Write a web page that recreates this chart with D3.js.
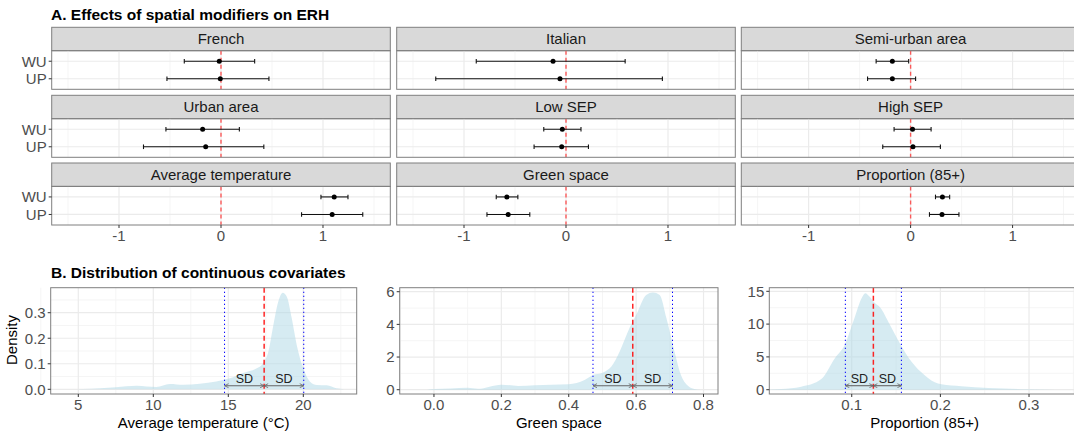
<!DOCTYPE html>
<html>
<head>
<meta charset="utf-8">
<script src="https://cdn.jsdelivr.net/npm/d3@7"></script>
<style>
  body { margin: 0; background: #fff; }
  text { font-family: "Liberation Sans", Arial, sans-serif; }
</style>
</head>
<body>
<svg id="chart" width="1074" height="435"></svg>
<script>
// ---- Part A data: effect estimates with 95% intervals ----
var facets = ["French", "Italian", "Semi-urban area",
              "Urban area", "Low SEP", "High SEP",
              "Average temperature", "Green space", "Proportion (85+)"];
var groups = ["WU", "UP"];
var estWU  = [-0.017, -0.127, -0.179, -0.18, -0.036, 0.019, 1.11, -0.58, 0.312];
var lowWU  = [-0.36, -0.88, -0.338, -0.54, -0.218, -0.162, 0.98, -0.684, 0.244];
var highWU = [0.33, 0.58, -0.019, 0.18, 0.147, 0.201, 1.245, -0.472, 0.383];
var estUP  = [-0.007, -0.059, -0.179, -0.15, -0.042, 0.023, 1.09, -0.567, 0.308];
var lowUP  = [-0.53, -1.277, -0.422, -0.76, -0.313, -0.273, 0.79, -0.775, 0.185];
var highUP = [0.47, 0.945, 0.049, 0.42, 0.22, 0.292, 1.39, -0.355, 0.474];
var effectTicks = [-1, 0, 1];

// ---- Part B data: density curves of the continuous covariates ----
var tempX = [4.5, 5.3, 6.5, 7.5, 8.9, 10.2, 11.1, 12.0, 13.1, 14.2, 15.1, 16.0, 16.9, 17.3, 17.67, 18.0, 18.33, 18.63, 18.9, 19.23, 19.56, 20.0, 20.45, 20.9, 21.56, 22.2, 22.7];
var tempY = [0, 0.001, 0.004, 0.008, 0.014, 0.009, 0.021, 0.018, 0.022, 0.031, 0.043, 0.064, 0.082, 0.10, 0.147, 0.25, 0.343, 0.378, 0.363, 0.278, 0.174, 0.082, 0.030, 0.017, 0.016, 0.004, 0];
var greenX = [-0.02, 0.0, 0.05, 0.1, 0.13, 0.2, 0.25, 0.3, 0.4, 0.447, 0.472, 0.502, 0.526, 0.551, 0.58, 0.6, 0.63, 0.65, 0.67, 0.69, 0.714, 0.733, 0.753, 0.773, 0.79];
var greenY = [0, 0.04, 0.07, 0.12, 0.06, 0.31, 0.23, 0.27, 0.33, 0.59, 0.90, 1.06, 1.41, 2.33, 3.76, 4.57, 5.8, 5.95, 5.8, 4.37, 2.33, 0.9, 0.25, 0.04, 0];
var propX = [0.008, 0.0206, 0.043, 0.0657, 0.081, 0.092, 0.103, 0.111, 0.1153, 0.12, 0.126, 0.1316, 0.143, 0.152, 0.1635, 0.1785, 0.1936, 0.201, 0.2236, 0.254, 0.3, 0.33];
var propY = [0.02, 0.1, 0.46, 1.63, 4.8, 6.8, 10.9, 13.9, 14.7, 14.2, 13.2, 12.6, 9.9, 7.6, 5.0, 2.65, 1.13, 0.82, 0.52, 0.26, 0.08, 0];
var covNames = ["Average temperature (\u00b0C)", "Green space", "Proportion (85+)"];
var covMean = [17.39, 0.59, 0.1244];
var covSD = [2.64, 0.118, 0.0316];
var xTicksB = [[5, 10, 15, 20], [0, 0.2, 0.4, 0.6, 0.8], [0.1, 0.2, 0.3]];
var yTicksB = [[0, 0.1, 0.2, 0.3], [0, 2, 4, 6], [0, 5, 10, 15]];

var svg = d3.select("#chart");
var borderCol = "#7f7f7f";
var gridMajor = "#ebebeb", gridMinor = "#f5f5f5";
var tickCol = "#4d4d4d";

svg.append("text").attr("x", 51).attr("y", 20)
  .attr("font-size", 15.5).attr("font-weight", "bold").attr("fill", "#000")
  .text("A. Effects of spatial modifiers on ERH");

// ---- Part A: faceted forest plot ----
var colLeft = [51.7, 396.7, 741.3];
var panelW = 338.6;
var rowTop = [27.3, 95.3, 163];
var stripH = 23.4, panelH = 38.6;

var xA = d3.scaleLinear().domain([-1.66, 1.66]).range([0, panelW]);
var yA = d3.scalePoint().domain(groups).range([0, panelH]).padding(0.6);

facets.forEach(function(name, i) {
    var col = i % 3, row = Math.floor(i / 3);
    var g = svg.append("g").attr("transform", "translate(" + colLeft[col] + "," + rowTop[row] + ")");

    // strip
    g.append("rect").attr("width", panelW).attr("height", stripH)
      .attr("fill", "#d9d9d9").attr("stroke", borderCol).attr("stroke-width", 1);
    g.append("text").attr("x", panelW / 2).attr("y", stripH / 2 + 5.3)
      .attr("text-anchor", "middle").attr("font-size", 15).attr("fill", "#1a1a1a").text(name);

    var p = g.append("g").attr("transform", "translate(0," + stripH + ")");
    [-1.5, -0.5, 0.5, 1.5].forEach(function(v) {
        p.append("line").attr("x1", xA(v)).attr("x2", xA(v)).attr("y1", 0).attr("y2", panelH)
          .attr("stroke", gridMinor).attr("stroke-width", 1);
    });
    effectTicks.forEach(function(v) {
        p.append("line").attr("x1", xA(v)).attr("x2", xA(v)).attr("y1", 0).attr("y2", panelH)
          .attr("stroke", gridMajor).attr("stroke-width", 1.2);
    });
    groups.forEach(function(gr) {
        p.append("line").attr("x1", 0).attr("x2", panelW).attr("y1", yA(gr)).attr("y2", yA(gr))
          .attr("stroke", gridMajor).attr("stroke-width", 1.2);
    });
    p.append("line").attr("x1", xA(0)).attr("x2", xA(0)).attr("y1", 0).attr("y2", panelH)
      .attr("stroke", "#ff2a2a").attr("stroke-opacity", 0.75).attr("stroke-width", 1.4)
      .attr("stroke-dasharray", "4,3");

    var rows = [
        {gr: "WU", est: estWU[i], lo: lowWU[i], hi: highWU[i]},
        {gr: "UP", est: estUP[i], lo: lowUP[i], hi: highUP[i]}
    ];
    rows.forEach(function(d) {
        var y = yA(d.gr);
        p.append("line").attr("x1", xA(d.lo)).attr("x2", xA(d.hi)).attr("y1", y).attr("y2", y)
          .attr("stroke", "#111").attr("stroke-width", 1.1);
        [d.lo, d.hi].forEach(function(v) {
            p.append("line").attr("x1", xA(v)).attr("x2", xA(v)).attr("y1", y - 2.3).attr("y2", y + 2.3)
              .attr("stroke", "#111").attr("stroke-width", 1.1);
        });
        p.append("circle").attr("cx", xA(d.est)).attr("cy", y).attr("r", 2.5).attr("fill", "#000");
    });
    p.append("rect").attr("width", panelW).attr("height", panelH)
      .attr("fill", "none").attr("stroke", borderCol).attr("stroke-width", 1);

    if (col === 0) {
        groups.forEach(function(gr) {
            p.append("line").attr("x1", -3).attr("x2", 0).attr("y1", yA(gr)).attr("y2", yA(gr))
              .attr("stroke", "#333");
            p.append("text").attr("x", -5).attr("y", yA(gr) + 5.3).attr("text-anchor", "end")
              .attr("font-size", 15).attr("fill", tickCol).text(gr);
        });
    }
    if (row === 2) {
        effectTicks.forEach(function(v) {
            p.append("line").attr("x1", xA(v)).attr("x2", xA(v)).attr("y1", panelH).attr("y2", panelH + 3)
              .attr("stroke", "#333");
            p.append("text").attr("x", xA(v)).attr("y", panelH + 16.5).attr("text-anchor", "middle")
              .attr("font-size", 15).attr("fill", tickCol).text(v === -1 ? "-1" : v);
        });
    }
});

// ---- Part B: density panels ----
svg.append("text").attr("x", 51).attr("y", 278)
  .attr("font-size", 15.5).attr("font-weight", "bold").attr("fill", "#000")
  .text("B. Distribution of continuous covariates");

var defs = svg.append("defs");
defs.append("marker").attr("id", "arr").attr("viewBox", "0 0 10 10")
  .attr("refX", 9).attr("refY", 5).attr("markerWidth", 5).attr("markerHeight", 5)
  .attr("orient", "auto-start-reverse").attr("markerUnits", "userSpaceOnUse")
  .append("path").attr("d", "M1,1 L9,5 L1,9").attr("fill", "none")
  .attr("stroke", "#666").attr("stroke-width", 1.6);

var bPanels = [
    {left: 50.7, right: 356.7, xd: [3.16, 23.56], yd: [-0.0184, 0.398], xs: tempX, ys: tempY,
     xMinor: [2.5, 7.5, 12.5, 17.5, 22.5], yMinor: [0.05, 0.15, 0.25, 0.35], fmtX: d3.format("d"), fmtY: d3.format(".1f")},
    {left: 399.7, right: 718, xd: [-0.1017, 0.843], yd: [-0.263, 6.246], xs: greenX, ys: greenY,
     xMinor: [-0.1, 0.1, 0.3, 0.5, 0.7], yMinor: [1, 3, 5], fmtX: d3.format(".1f"), fmtY: d3.format("d")},
    {left: 769.3, right: 1080, xd: [0.007, 0.3575], yd: [-0.655, 15.55], xs: propX, ys: propY,
     xMinor: [0.05, 0.15, 0.25, 0.35], yMinor: [2.5, 7.5, 12.5], fmtX: d3.format(".1f"), fmtY: d3.format("d")}
];
var bTop = 287.7, bBottom = 394;

bPanels.forEach(function(b, k) {
    var w = b.right - b.left, h = bBottom - bTop;
    var x = d3.scaleLinear().domain(b.xd).range([0, w]);
    var y = d3.scaleLinear().domain(b.yd).range([h, 0]);
    var g = svg.append("g").attr("transform", "translate(" + b.left + "," + bTop + ")");

    b.xMinor.forEach(function(v) {
        g.append("line").attr("x1", x(v)).attr("x2", x(v)).attr("y1", 0).attr("y2", h)
          .attr("stroke", gridMinor);
    });
    b.yMinor.forEach(function(v) {
        g.append("line").attr("x1", 0).attr("x2", w).attr("y1", y(v)).attr("y2", y(v))
          .attr("stroke", gridMinor);
    });
    xTicksB[k].forEach(function(v) {
        g.append("line").attr("x1", x(v)).attr("x2", x(v)).attr("y1", 0).attr("y2", h)
          .attr("stroke", gridMajor).attr("stroke-width", 1.2);
    });
    yTicksB[k].forEach(function(v) {
        g.append("line").attr("x1", 0).attr("x2", w).attr("y1", y(v)).attr("y2", y(v))
          .attr("stroke", gridMajor).attr("stroke-width", 1.2);
    });

    var pts = b.xs.map(function(v, j) { return [v, b.ys[j]]; });
    var area = d3.area().x(function(d) { return x(d[0]); }).y0(y(0)).y1(function(d) { return y(d[1]); })
      .curve(d3.curveMonotoneX);
    g.append("path").datum(pts).attr("d", area).attr("fill", "#add8e6").attr("fill-opacity", 0.5);

    var m = covMean[k], s = covSD[k];
    [m - s, m + s].forEach(function(v) {
        g.append("line").attr("x1", x(v)).attr("x2", x(v)).attr("y1", 0).attr("y2", h)
          .attr("stroke", "#0000ff").attr("stroke-width", 1).attr("stroke-dasharray", "1.3,2.7");
    });
    g.append("line").attr("x1", x(m)).attr("x2", x(m)).attr("y1", 0).attr("y2", h)
      .attr("stroke", "#ff0000").attr("stroke-opacity", 0.85).attr("stroke-width", 1.5)
      .attr("stroke-dasharray", "5,3");

    var ay = h - 8.3;
    [[m - s, m], [m, m + s]].forEach(function(seg) {
        g.append("line").attr("x1", x(seg[0])).attr("x2", x(seg[1])).attr("y1", ay).attr("y2", ay)
          .attr("stroke", "#666").attr("stroke-width", 1.1)
          .attr("marker-start", "url(#arr)").attr("marker-end", "url(#arr)");
        g.append("text").attr("x", x((seg[0] + seg[1]) / 2)).attr("y", ay - 3)
          .attr("text-anchor", "middle").attr("font-size", 12.5).attr("fill", "#222").text("SD");
    });

    g.append("rect").attr("width", w).attr("height", h).attr("fill", "none")
      .attr("stroke", borderCol).attr("stroke-width", 1);

    xTicksB[k].forEach(function(v) {
        g.append("line").attr("x1", x(v)).attr("x2", x(v)).attr("y1", h).attr("y2", h + 3).attr("stroke", "#333");
        g.append("text").attr("x", x(v)).attr("y", h + 16.5).attr("text-anchor", "middle")
          .attr("font-size", 15).attr("fill", tickCol).text(b.fmtX(v));
    });
    yTicksB[k].forEach(function(v) {
        g.append("line").attr("x1", -3).attr("x2", 0).attr("y1", y(v)).attr("y2", y(v)).attr("stroke", "#333");
        g.append("text").attr("x", -5).attr("y", y(v) + 5.3).attr("text-anchor", "end")
          .attr("font-size", 15).attr("fill", tickCol).text(b.fmtY(v));
    });
    g.append("text").attr("x", w / 2).attr("y", h + 34).attr("text-anchor", "middle")
      .attr("font-size", 15).attr("fill", "#000").text(covNames[k]);
});

svg.append("text").attr("transform", "translate(17,340) rotate(-90)")
  .attr("text-anchor", "middle").attr("font-size", 15).attr("fill", "#000").text("Density");
</script>
</body>
</html>
